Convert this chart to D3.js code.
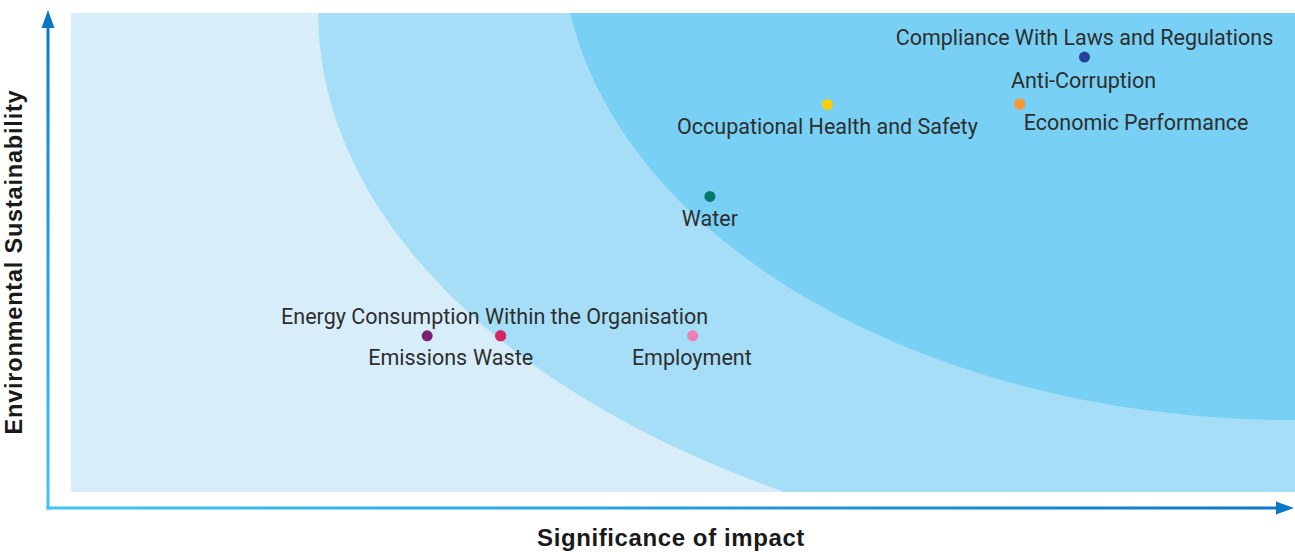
<!DOCTYPE html>
<html>
<head>
<meta charset="utf-8">
<script src="https://cdn.jsdelivr.net/npm/d3@7"></script>
<style>
    body { margin: 0; background: #ffffff; }
    svg { display: block; }
    .topic-label { font-family: Roboto, sans-serif; font-size: 21.5px; fill: #2e2e2e; }
    .axis-title { font-family: 'Liberation Sans', Arial, sans-serif; font-weight: bold; font-size: 24px; letter-spacing: 0.6px; fill: #1a1a1a; }
</style>
</head>
<body>
<svg id="board"></svg>
<script>
// Topics of the materiality matrix
let topics = [
    'Compliance With Laws and Regulations',
    'Anti-Corruption',
    'Economic Performance',
    'Occupational Health and Safety',
    'Water',
    'Energy Consumption Within the Organisation',
    'Emissions',
    'Waste',
    'Employment'
]
// Significance of impact (0 - 100)
let impact = [82.8, 77.5, 77.5, 61.8, 52.2, 35.1, 29.1, 35.1, 50.8]
// Environmental sustainability (0 - 100)
let sustainability = [90.8, 81.0, 81.0, 80.9, 61.7, 32.6, 32.6, 32.6, 32.6]
let dotColors = ['#253f9b', '#f7993b', '#f7993b', '#fccb0b', '#087868', '#d42461', '#7a1f72', '#d42461', '#f07fb1']

// Priority zones, drawn as quarter ellipses around the top right of the matrix
let zones = [
    { cx: 100, cy: 100, rx: 79.8, ry: 117.3, color: '#a6def7' },
    { cx: 100, cy: 115.2, rx: 59.9, ry: 100.2, color: '#78d0f5' }
]

// Where each label sits relative to its dot (pixels)
let labelPlacement = {
    'Compliance With Laws and Regulations': { dx: 0, dy: -12, anchor: 'middle' },
    'Anti-Corruption': { dx: 64, dy: -16.5, anchor: 'middle' },
    'Economic Performance': { dx: 116.5, dy: 26, anchor: 'middle' },
    'Occupational Health and Safety': { dx: 0, dy: 30, anchor: 'middle' },
    'Water': { dx: 0, dy: 29.5, anchor: 'middle' },
    'Energy Consumption Within the Organisation': { dx: -6, dy: -11.5, anchor: 'middle' },
    'Emissions': { dx: 40, dy: 29.5, anchor: 'end' },
    'Waste': { dx: -27.5, dy: 29.5, anchor: 'start' },
    'Employment': { dx: -1, dy: 29.5, anchor: 'middle' }
}

let width = 1295
let height = 552
let plot = { left: 71, right: 1295, top: 13, bottom: 492 }
let axisX = 48
let axisY = 508

let board = d3.select('#board')
    .attr('width', width)
    .attr('height', height)

let xScale = d3.scaleLinear().domain([0, 100]).range([plot.left, plot.right])
let yScale = d3.scaleLinear().domain([0, 100]).range([plot.bottom, plot.top])

let defs = board.append('defs')

defs.append('clipPath')
    .attr('id', 'plot-clip')
    .append('rect')
    .attr('x', plot.left)
    .attr('y', plot.top)
    .attr('width', plot.right - plot.left)
    .attr('height', plot.bottom - plot.top)

// Axis gradients: light at the origin, darker toward the arrow heads
let vGrad = defs.append('linearGradient')
    .attr('id', 'v-grad')
    .attr('gradientUnits', 'userSpaceOnUse')
    .attr('x1', 0).attr('y1', axisY)
    .attr('x2', 0).attr('y2', 10)
vGrad.append('stop').attr('offset', 0).attr('stop-color', '#40c6f4')
vGrad.append('stop').attr('offset', 1).attr('stop-color', '#0a78c5')

let hGrad = defs.append('linearGradient')
    .attr('id', 'h-grad')
    .attr('gradientUnits', 'userSpaceOnUse')
    .attr('x1', axisX).attr('y1', 0)
    .attr('x2', 1293).attr('y2', 0)
hGrad.append('stop').attr('offset', 0).attr('stop-color', '#40c6f4')
hGrad.append('stop').attr('offset', 1).attr('stop-color', '#0a78c5')

// Light background of the matrix
board.append('rect')
    .attr('x', plot.left)
    .attr('y', plot.top)
    .attr('width', plot.right - plot.left)
    .attr('height', plot.bottom - plot.top)
    .attr('fill', '#d7eefa')

// Zone shapes
let zoneLine = d3.line()
    .x((d) => xScale(d[0]))
    .y((d) => yScale(d[1]))

let zoneGroup = board.append('g').attr('clip-path', 'url(#plot-clip)')
zones.forEach((zone) => {
    let pts = [[zone.cx, zone.cy]]
    d3.range(0, 91).forEach((deg) => {
        let t = deg * Math.PI / 180
        pts.push([zone.cx - zone.rx * Math.cos(t), zone.cy - zone.ry * Math.sin(t)])
    })
    zoneGroup.append('path')
        .attr('d', zoneLine(pts) + 'Z')
        .attr('fill', zone.color)
})

// Axes with arrow heads
board.append('line')
    .attr('x1', axisX).attr('y1', axisY + 1.5)
    .attr('x2', axisX).attr('y2', 26)
    .attr('stroke', 'url(#v-grad)')
    .attr('stroke-width', 3)
board.append('path')
    .attr('d', 'M' + axisX + ',10 L' + (axisX + 6.5) + ',28 L' + (axisX - 6.5) + ',28 Z')
    .attr('fill', '#0a78c5')

board.append('line')
    .attr('x1', axisX - 1.5).attr('y1', axisY)
    .attr('x2', 1279).attr('y2', axisY)
    .attr('stroke', 'url(#h-grad)')
    .attr('stroke-width', 3)
board.append('path')
    .attr('d', 'M1294,' + axisY + ' L1276,' + (axisY - 6.5) + ' L1276,' + (axisY + 6.5) + ' Z')
    .attr('fill', '#0a78c5')

// Axis titles
board.append('text')
    .attr('class', 'axis-title')
    .attr('x', 671)
    .attr('y', 546)
    .attr('text-anchor', 'middle')
    .text('Significance of impact')

board.append('text')
    .attr('class', 'axis-title')
    .attr('transform', 'translate(22,262) rotate(-90)')
    .attr('text-anchor', 'middle')
    .style('font-size', '23.5px')
    .style('letter-spacing', '0.8px')
    .text('Environmental Sustainability')

// Dots
let items = topics.map((name, i) => {
    return { name: name, x: impact[i], y: sustainability[i], color: dotColors[i] }
})

board.selectAll('circle.topic')
    .data(items)
    .enter()
    .append('circle')
    .attr('class', 'topic')
    .attr('cx', (d) => xScale(d.x))
    .attr('cy', (d) => yScale(d.y))
    .attr('r', 5.5)
    .attr('fill', (d) => d.color)

// Labels
board.selectAll('text.topic-label')
    .data(items)
    .enter()
    .append('text')
    .attr('class', 'topic-label')
    .attr('x', (d) => xScale(d.x) + labelPlacement[d.name].dx)
    .attr('y', (d) => yScale(d.y) + labelPlacement[d.name].dy)
    .attr('text-anchor', (d) => labelPlacement[d.name].anchor)
    .text((d) => d.name)
</script>
</body>
</html>
